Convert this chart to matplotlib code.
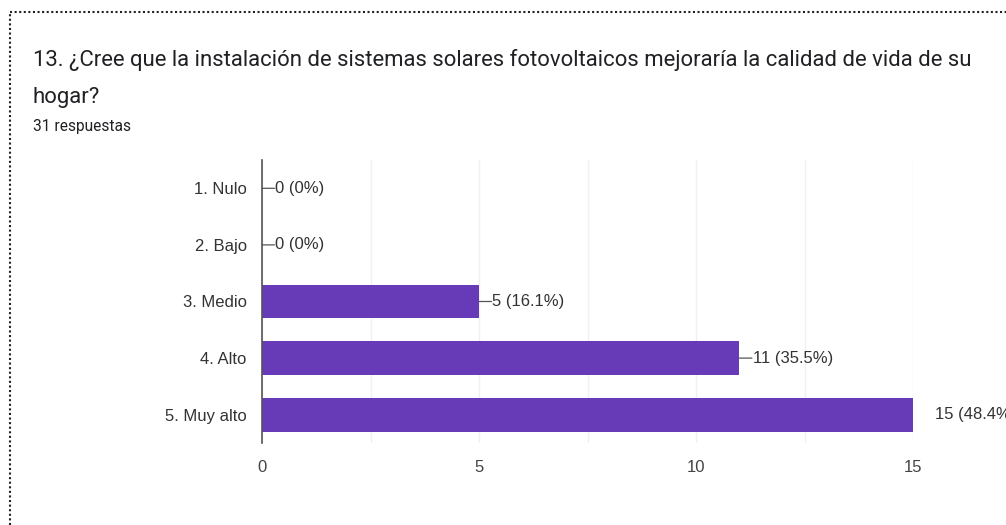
import matplotlib.pyplot as plt
from matplotlib.lines import Line2D

# Data
categories = ['1. Nulo', '2. Bajo', '3. Medio', '4. Alto', '5. Muy alto']
counts = [0, 0, 5, 11, 15]
percents = ['0%', '0%', '16.1%', '35.5%', '48.4%']
x_ticks = [0, 5, 10, 15]
total = 31

title_line1 = '13. ¿Cree que la instalación de sistemas solares fotovoltaicos mejoraría la calidad de vida de su'
title_line2 = 'hogar?'
subtitle = f'{total} respuestas'

W, H = 1006, 525
fig = plt.figure(figsize=(W / 100, H / 100), dpi=100)

# dotted frame around the card
fig.add_artist(Line2D([10 / W, 1], [1 - 12 / H, 1 - 12 / H], color='#222222',
                      lw=1.5, linestyle=(0, (1, 1.2)), transform=fig.transFigure))
fig.add_artist(Line2D([10 / W, 10 / W], [0, 1 - 12 / H], color='#222222',
                      lw=1.5, linestyle=(0, (1, 1.2)), transform=fig.transFigure))

fig.text(33 / W, 1 - 60 / H, title_line1, fontsize=15.9, family='Roboto', color='#202124',
         va='center', ha='left')
fig.text(33 / W, 1 - 97 / H, title_line2, fontsize=15.9, family='Roboto', color='#202124',
         va='center', ha='left')
fig.text(33 / W, 1 - 126 / H, subtitle, fontsize=11.2, family='Roboto', color='#202124',
         va='center', ha='left')

# plot area: x 262..913, y 160..443
ax = fig.add_axes([262 / W, 1 - 443 / H, (913 - 262) / W, (443 - 160) / H])
y = range(len(categories))
ax.barh(y, counts, height=0.6, color='#673ab7', zorder=2)
ax.set_ylim(len(categories) - 0.5, -0.5)
ax.set_xlim(0, 15)

ax.set_xticks(x_ticks)
ax.set_xticks([2.5, 7.5, 12.5], minor=True)
ax.grid(axis='x', which='both', color='#f0f0f0', lw=1, zorder=0)
ax.set_yticks(list(y))
ax.set_yticklabels(categories)
ax.tick_params(axis='y', length=0, pad=11, labelsize=12, labelcolor='#333333')
ax.tick_params(axis='x', which='both', length=0, pad=12, labelsize=12, labelcolor='#444444')
for lab in ax.get_xticklabels() + ax.get_yticklabels():
    lab.set_family('Liberation Sans')

for s in ['top', 'right', 'bottom']:
    ax.spines[s].set_visible(False)
ax.spines['left'].set_color('#555555')
ax.spines['left'].set_linewidth(1.2)

# value labels (the last one runs past the right edge, as in the reference)
for i, (c, p) in enumerate(zip(counts, percents)):
    label = f'{c} ({p})'
    if c < 15:
        ax.annotate('', xy=(c, i), xytext=(9, 0), textcoords='offset points',
                    arrowprops=dict(arrowstyle='-', color='#555555', lw=0.9,
                                    shrinkA=0, shrinkB=0), annotation_clip=False)
        ax.annotate(label, xy=(c, i), xytext=(9.5, 0), textcoords='offset points',
                    va='center', ha='left', fontsize=12, color='#333333',
                    family='Liberation Sans', annotation_clip=False)
    else:
        ax.annotate(label, xy=(c, i), xytext=(16, 0), textcoords='offset points',
                    va='center', ha='left', fontsize=12, color='#333333',
                    family='Liberation Sans', annotation_clip=False)

fig.savefig('out.png', dpi=100)
